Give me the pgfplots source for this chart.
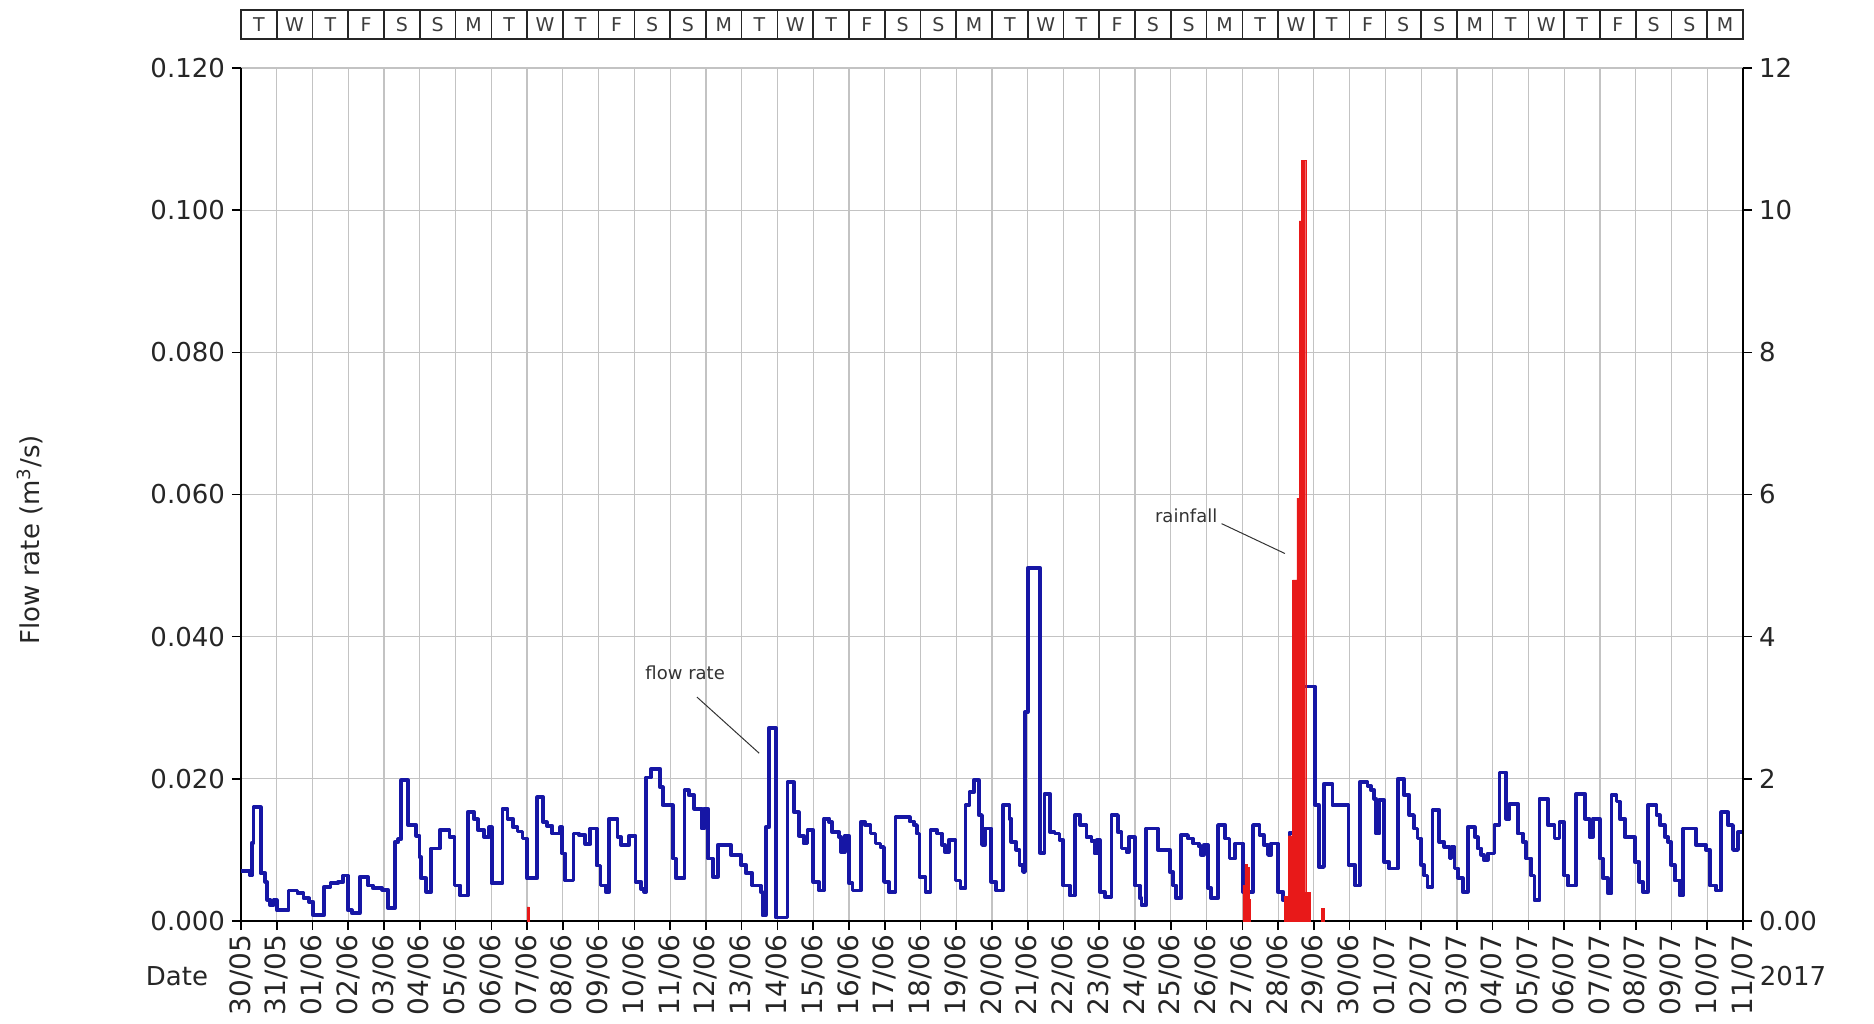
\documentclass[border=0pt]{standalone}
\usepackage{pgfplots}
\pgfplotsset{compat=1.18}
\usepackage{fontspec}
\setmainfont{DejaVu Sans}
\definecolor{flowblue}{RGB}{22,22,165}
\definecolor{rainred}{RGB}{232,25,25}
\definecolor{gridgray}{RGB}{195,195,195}
\definecolor{lettergray}{RGB}{60,60,60}

\begin{document}
\begin{tikzpicture}
\useasboundingbox (-120.5pt,-51pt) rectangle (816.5pt,460.5pt);
\begin{axis}[
  name=main, at={(0pt,0pt)}, anchor=south west,
  scale only axis, width=751pt, height=426.5pt,
  xmin=0, xmax=42, ymin=0, ymax=0.12,
  axis x line*=bottom, axis y line*=left,
  axis line style={line width=0.9pt, black},
  clip=false,
  tick align=outside,
  major tick length=4.5pt,
  tick style={black, line width=0.8pt},
  xmajorgrids, ymajorgrids,
  grid style={gridgray, line width=0.6pt},
  ytick={0,0.02,0.04,0.06,0.08,0.1,0.12},
  yticklabels={0.000,0.020,0.040,0.060,0.080,0.100,0.120},
  yticklabel style={font=\fontsize{13}{15}\selectfont, color=black!85},
  xtick={0,...,42},
  xticklabels={30/05,31/05,01/06,02/06,03/06,04/06,05/06,06/06,07/06,08/06,09/06,10/06,11/06,12/06,13/06,14/06,15/06,16/06,17/06,18/06,19/06,20/06,21/06,22/06,23/06,24/06,25/06,26/06,27/06,28/06,29/06,30/06,01/07,02/07,03/07,04/07,05/07,06/07,07/07,08/07,09/07,10/07,11/07},
  xticklabel style={rotate=90, anchor=east, font=\fontsize{14}{16}\selectfont, color=black!85, inner sep=2pt},
  /pgf/number format/assume math mode=true,
]
\addplot[const plot, flowblue, line width=1.9pt, line join=round] coordinates {
(0.00,0.0070) (0.26,0.0064) (0.30,0.0110) (0.35,0.0160) (0.55,0.0067) (0.68,0.0055)
(0.73,0.0030) (0.82,0.0022) (0.91,0.0029) (1.00,0.0015) (1.33,0.0043) (1.58,0.0039)
(1.75,0.0032) (1.90,0.0027) (2.02,0.0008) (2.32,0.0048) (2.50,0.0053) (2.72,0.0055)
(2.86,0.0064) (2.99,0.0015) (3.10,0.0011) (3.32,0.0062) (3.55,0.0050) (3.69,0.0046)
(3.95,0.0044) (4.11,0.0018) (4.30,0.0111) (4.40,0.0115) (4.48,0.0198) (4.67,0.0135)
(4.90,0.0120) (4.99,0.0090) (5.04,0.0060) (5.18,0.0041) (5.32,0.0102) (5.56,0.0128)
(5.83,0.0118) (5.97,0.0050) (6.13,0.0036) (6.34,0.0153) (6.52,0.0143) (6.63,0.0128)
(6.80,0.0118) (6.94,0.0132) (7.01,0.0053) (7.31,0.0158) (7.45,0.0144) (7.60,0.0132)
(7.73,0.0126) (7.87,0.0116) (7.99,0.0060) (8.28,0.0174) (8.45,0.0139) (8.55,0.0134)
(8.70,0.0123) (8.93,0.0132) (8.98,0.0095) (9.07,0.0057) (9.30,0.0123) (9.45,0.0121)
(9.63,0.0108) (9.77,0.0130) (9.95,0.0078) (10.05,0.0050) (10.20,0.0041) (10.30,0.0144)
(10.53,0.0118) (10.63,0.0107) (10.86,0.0120) (11.03,0.0055) (11.19,0.0045) (11.28,0.0041)
(11.33,0.0202) (11.47,0.0214) (11.72,0.0188) (11.79,0.0163) (12.07,0.0088) (12.16,0.0060)
(12.40,0.0184) (12.52,0.0177) (12.67,0.0158) (12.88,0.0130) (12.95,0.0158) (13.05,0.0088)
(13.19,0.0062) (13.33,0.0107) (13.70,0.0093) (13.98,0.0079) (14.12,0.0067) (14.30,0.0050)
(14.53,0.0041) (14.58,0.0008) (14.67,0.0132) (14.77,0.0272) (14.95,0.0005) (15.28,0.0195)
(15.47,0.0153) (15.60,0.0120) (15.74,0.0109) (15.84,0.0128) (16.00,0.0055) (16.16,0.0043)
(16.30,0.0144) (16.45,0.0139) (16.53,0.0125) (16.72,0.0118) (16.78,0.0097) (16.88,0.0120)
(17.00,0.0053) (17.10,0.0043) (17.33,0.0139) (17.45,0.0135) (17.60,0.0123) (17.74,0.0109)
(17.88,0.0104) (17.98,0.0055) (18.12,0.0041) (18.30,0.0146) (18.70,0.0140) (18.81,0.0135)
(18.90,0.0123) (18.97,0.0062) (19.14,0.0041) (19.28,0.0128) (19.47,0.0123) (19.60,0.0107)
(19.68,0.0097) (19.79,0.0114) (19.98,0.0057) (20.12,0.0046) (20.26,0.0163) (20.37,0.0181)
(20.49,0.0198) (20.63,0.0149) (20.72,0.0107) (20.80,0.0130) (20.98,0.0055) (21.12,0.0043)
(21.31,0.0163) (21.49,0.0144) (21.54,0.0111) (21.68,0.0100) (21.77,0.0079) (21.87,0.0069)
(21.92,0.0294) (22.00,0.0497) (22.34,0.0096) (22.47,0.0179) (22.62,0.0125) (22.75,0.0123)
(22.89,0.0114) (22.99,0.0050) (23.17,0.0036) (23.31,0.0149) (23.47,0.0135) (23.64,0.0118)
(23.78,0.0112) (23.87,0.0095) (23.93,0.0114) (24.01,0.0041) (24.15,0.0034) (24.34,0.0149)
(24.52,0.0125) (24.62,0.0102) (24.76,0.0097) (24.82,0.0118) (24.99,0.0050) (25.13,0.0032)
(25.18,0.0022) (25.31,0.0130) (25.64,0.0100) (25.97,0.0069) (26.06,0.0050) (26.15,0.0032)
(26.29,0.0121) (26.48,0.0116) (26.62,0.0109) (26.78,0.0105) (26.85,0.0093) (26.92,0.0107)
(27.04,0.0046) (27.13,0.0032) (27.32,0.0135) (27.52,0.0116) (27.64,0.0088) (27.80,0.0109)
(28.02,0.0041) (28.30,0.0135) (28.48,0.0121) (28.60,0.0107) (28.72,0.0093) (28.81,0.0109)
(28.99,0.0041) (29.14,0.0029) (29.23,0.0025) (29.32,0.0124) (29.50,0.0330) (30.03,0.0163)
(30.14,0.0076) (30.28,0.0193) (30.52,0.0163) (30.97,0.0079) (31.15,0.0050) (31.28,0.0195)
(31.50,0.0190) (31.60,0.0184) (31.69,0.0172) (31.74,0.0123) (31.83,0.0170) (31.97,0.0083)
(32.11,0.0074) (32.35,0.0200) (32.52,0.0177) (32.67,0.0149) (32.80,0.0130) (32.90,0.0116)
(33.00,0.0079) (33.08,0.0064) (33.18,0.0048) (33.32,0.0156) (33.51,0.0111) (33.65,0.0104)
(33.79,0.0088) (33.85,0.0104) (33.93,0.0074) (34.04,0.0060) (34.16,0.0041) (34.30,0.0132)
(34.50,0.0118) (34.58,0.0102) (34.68,0.0093) (34.75,0.0086) (34.86,0.0095) (35.05,0.0135)
(35.19,0.0209) (35.38,0.0144) (35.47,0.0165) (35.70,0.0123) (35.84,0.0111) (35.94,0.0088)
(36.08,0.0064) (36.17,0.0029) (36.31,0.0172) (36.54,0.0135) (36.73,0.0116) (36.87,0.0139)
(37.00,0.0064) (37.10,0.0050) (37.34,0.0179) (37.58,0.0144) (37.71,0.0118) (37.80,0.0144)
(37.99,0.0088) (38.08,0.0060) (38.22,0.0039) (38.32,0.0177) (38.46,0.0168) (38.55,0.0144)
(38.69,0.0118) (38.97,0.0083) (39.10,0.0055) (39.20,0.0041) (39.34,0.0163) (39.58,0.0149)
(39.67,0.0135) (39.81,0.0118) (39.90,0.0111) (39.99,0.0079) (40.09,0.0057) (40.23,0.0036)
(40.32,0.0130) (40.69,0.0107) (40.97,0.0100) (41.07,0.0050) (41.25,0.0043) (41.39,0.0153)
(41.58,0.0135) (41.72,0.0100) (41.86,0.0125) (42.00,0.0125)
};
% annotations
\node[font=\fontsize{9}{10}\selectfont, color=black!80] at (axis cs:12.42,0.0349) {flow rate};
\draw[black!80, line width=0.5pt] (axis cs:12.75,0.0315) -- (axis cs:14.49,0.0236);
\node[font=\fontsize{9}{10}\selectfont, color=black!80] at (axis cs:26.43,0.0570) {rainfall};
\draw[black!80, line width=0.5pt] (axis cs:27.42,0.0559) -- (axis cs:29.19,0.0517);
% outer labels
\node[rotate=90, font=\fontsize{13}{15}\selectfont, color=black!85] at (rel axis cs:-0.1405,0.447) {Flow rate (m\textsuperscript{3}/s)};
\node[font=\fontsize{13}{15}\selectfont, color=black!85] at (rel axis cs:-0.0426,-0.0645) {Date};
\node[font=\fontsize{13}{15}\selectfont, color=black!85] at (rel axis cs:1.0333,-0.0645) {2017};
% day strip
\draw[line width=0.8pt, black!85] (axis cs:0,0.12408) rectangle (axis cs:42,0.12816);
\pgfplotsinvokeforeach{1,...,41}{
  \draw[line width=0.8pt, black!85] (axis cs:#1,0.12408) -- (axis cs:#1,0.12816);
}
\pgfplotsinvokeforeach{0,...,41}{
  \node[font=\fontsize{9.5}{10}\selectfont, color=lettergray, inner sep=0pt] at (axis cs:#1.5,0.12612) {\pgfmathtruncatemacro\k{mod(#1,7)}\ifcase\k T\or W\or T\or F\or S\or S\or M\fi};
}
\end{axis}

\begin{axis}[
  at={(0pt,0pt)}, anchor=south west,
  scale only axis, width=751pt, height=426.5pt,
  xmin=0, xmax=42, ymin=0, ymax=12,
  axis y line*=right, axis x line=none,
  axis line style={line width=0.9pt, black},
  tick align=outside,
  major tick length=4.5pt,
  tick style={black, line width=0.8pt},
  ytick={0,2,4,6,8,10,12},
  yticklabels={0.00,2,4,6,8,10,12},
  yticklabel style={font=\fontsize{13}{15}\selectfont, color=black!85},
]
\addplot[ybar, bar width=0.065, bar shift=0pt, fill=rainred, draw=rainred, line width=0.2pt] coordinates {
(8.03,0.2)
(28.05,0.5) (28.10,0.8) (28.15,0.75) (28.20,0.3)
(29.20,0.35) (29.25,0.35) (29.32,1.2) (29.38,1.2) (29.44,4.8) (29.50,4.8) (29.56,5.95)
(29.62,9.85) (29.68,10.7) (29.74,10.7) (29.80,0.4) (29.86,0.4)
(30.25,0.18)
};
\end{axis}
\end{tikzpicture}
\end{document}
